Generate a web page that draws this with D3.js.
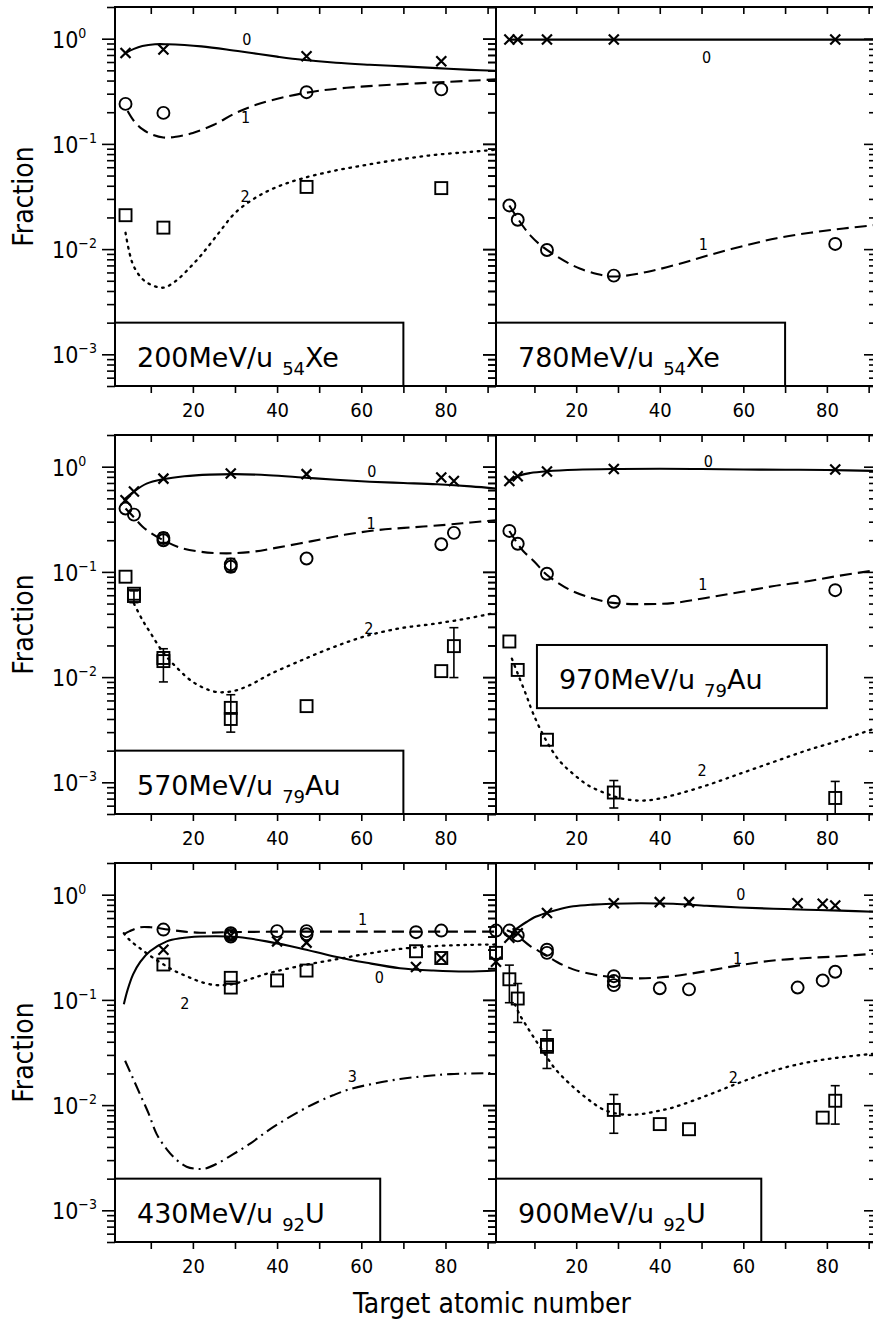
<!DOCTYPE html>
<html>
<head>
<meta charset="utf-8">
<script src="https://cdn.jsdelivr.net/npm/d3@7"></script>
<style>
  html, body { margin: 0; padding: 0; background: #fff; }
  svg { display: block; font-family: "DejaVu Sans", "Liberation Sans", sans-serif; }
</style>
</head>
<body>
<svg id="chart" width="873" height="1325"></svg>
<script>
// ---------- Axis ticks ----------
const zTicks = [10, 20, 30, 40, 50, 60, 70, 80, 90];
const zLabelTicks = [20, 40, 60, 80];
const fracMajor = [1e-3, 1e-2, 1e-1, 1];
const fracExponents = ["−3", "−2", "−1", "0"];

// ---------- 200 MeV/u 54Xe ----------
const xe200Beam = ["200MeV/u", "54", "Xe"];
const xe200Q0 = [[4, 0.73], [13, 0.79], [47, 0.68], [79, 0.61]];
const xe200Q1 = [[4, 0.24], [13, 0.197], [47, 0.31], [79, 0.33]];
const xe200Q2 = [[4, 0.021], [13, 0.016], [47, 0.039], [79, 0.038]];
const xe200Fit0 = [[4, 0.73], [6, 0.8], [8, 0.85], [11, 0.885], [14, 0.885], [18, 0.87], [22, 0.845], [28, 0.79], [34, 0.73], [40, 0.675], [46, 0.63], [54, 0.59], [62, 0.565], [70, 0.545], [78, 0.525], [86, 0.505], [92, 0.495]];
const xe200Fit1 = [[4.5, 0.205], [6, 0.165], [8, 0.138], [10, 0.124], [13, 0.115], [16, 0.117], [20, 0.127], [25, 0.152], [30, 0.195], [35, 0.235], [42, 0.28], [50, 0.32], [60, 0.35], [70, 0.37], [80, 0.388], [92, 0.41]];
const xe200Fit2 = [[4, 0.0143], [5, 0.009], [6, 0.0068], [8, 0.0052], [10, 0.0046], [13, 0.0043], [16, 0.005], [19, 0.0065], [22, 0.0088], [26, 0.014], [30, 0.022], [35, 0.031], [40, 0.039], [46, 0.047], [54, 0.056], [62, 0.064], [70, 0.072], [78, 0.079], [86, 0.084], [92, 0.088]];
const xe200Labels = [[32.8, 0.98, "0"], [32.5, 0.177, "1"], [32.4, 0.0314, "2"]];

// ---------- 780 MeV/u 54Xe ----------
const xe780Beam = ["780MeV/u", "54", "Xe"];
const xe780Q0 = [[4, 0.98], [6, 0.98], [13, 0.98], [29, 0.98], [82, 0.98]];
const xe780Q1 = [[4, 0.026], [6, 0.019], [13, 0.0098], [29, 0.0056], [82, 0.0112]];
const xe780Fit0 = [[4, 0.98], [30, 0.98], [60, 0.98], [92, 0.98]];
const xe780Fit1 = [[4, 0.026], [6, 0.0195], [9, 0.0135], [12, 0.0105], [15, 0.0087], [18, 0.0074], [21, 0.0065], [25, 0.0058], [28, 0.0055], [32, 0.0056], [38, 0.0062], [45, 0.0073], [52, 0.0088], [60, 0.0107], [68, 0.0127], [76, 0.0143], [84, 0.0157], [92, 0.017]];
const xe780Labels = [[51.2, 0.66, "0"], [50.4, 0.011, "1"]];

// ---------- 570 MeV/u 79Au ----------
const au570Beam = ["570MeV/u", "79", "Au"];
const au570Q0 = [[4, 0.48], [6, 0.58], [13, 0.77], [29, 0.86], [47, 0.85], [79, 0.79], [82, 0.73]];
const au570Q1 = [[4, 0.40], [6, 0.35], [13, 0.21], [13, 0.20], [29, 0.118], [29, 0.112], [47, 0.134], [79, 0.183], [82, 0.235]];
const au570Q1Err = [[13, 0.19, 0.235], [29, 0.10, 0.134]];
const au570Q2 = [[4, 0.09], [6, 0.059], [6, 0.062], [13, 0.0142], [13, 0.0152], [29, 0.0051], [29, 0.004], [47, 0.0053], [79, 0.0114], [82, 0.0197]];
const au570Q2Err = [[6, 0.051, 0.066], [13, 0.009, 0.0186], [29, 0.003, 0.0068], [82, 0.0099, 0.0295]];
const au570Fit0 = [[3.5, 0.48], [6, 0.58], [9, 0.69], [13, 0.76], [18, 0.81], [24, 0.84], [30, 0.85], [38, 0.83], [46, 0.79], [54, 0.75], [62, 0.72], [70, 0.70], [78, 0.68], [86, 0.65], [92, 0.62]];
const au570Fit1 = [[4, 0.40], [6, 0.33], [8, 0.27], [10, 0.235], [13, 0.2], [17, 0.17], [22, 0.155], [28, 0.15], [34, 0.155], [40, 0.17], [48, 0.195], [56, 0.225], [64, 0.25], [72, 0.265], [80, 0.28], [86, 0.295], [92, 0.31]];
const au570Fit2 = [[6, 0.05], [8, 0.035], [10, 0.026], [13, 0.017], [16, 0.0125], [20, 0.009], [25, 0.0073], [29, 0.0073], [33, 0.0082], [38, 0.0105], [45, 0.014], [53, 0.019], [61, 0.0245], [69, 0.029], [77, 0.032], [85, 0.036], [92, 0.041]];
const au570Labels = [[62.5, 0.90, "0"], [62.3, 0.29, "1"], [61.8, 0.029, "2"]];

// ---------- 970 MeV/u 79Au ----------
const au970Beam = ["970MeV/u", "79", "Au"];
const au970Q0 = [[4, 0.73], [6, 0.81], [13, 0.90], [29, 0.95], [82, 0.94]];
const au970Q1 = [[4, 0.245], [6, 0.185], [13, 0.096], [29, 0.052], [82, 0.067]];
const au970Q2 = [[4, 0.0218], [6, 0.0117], [13, 0.00254], [29, 0.0008], [82, 0.00071]];
const au970Q2Err = [[29, 0.00057, 0.00104], [82, 0.0005, 0.00102]];
const au970Fit0 = [[4, 0.73], [6, 0.815], [9, 0.87], [13, 0.905], [20, 0.935], [30, 0.95], [40, 0.955], [50, 0.95], [60, 0.94], [70, 0.935], [80, 0.93], [92, 0.91]];
const au970Fit1 = [[4, 0.245], [6, 0.185], [7.3, 0.158], [10, 0.125], [12.8, 0.095], [16, 0.077], [19.3, 0.065], [24, 0.056], [28.3, 0.051], [35, 0.0494], [43, 0.0505], [51, 0.0565], [59, 0.064], [67, 0.073], [75, 0.081], [83, 0.092], [92, 0.104]];
const au970Fit2 = [[4.6, 0.015], [6, 0.0108], [8, 0.0068], [9.7, 0.0045], [12.8, 0.0025], [16, 0.0016], [19.3, 0.0012], [23, 0.00093], [27.3, 0.00078], [31, 0.0007], [35.3, 0.00067], [39, 0.00069], [43, 0.00075], [51, 0.00093], [59, 0.0012], [67, 0.00155], [75, 0.002], [83, 0.0025], [92, 0.0033]];
const au970Labels = [[51.6, 1.12, "0"], [50.3, 0.076, "1"], [50.1, 0.0013, "2"]];

// ---------- 430 MeV/u 92U ----------
const u430Beam = ["430MeV/u", "92", "U"];
const u430Q0 = [[13, 0.30], [29, 0.41], [40, 0.36], [47, 0.35], [73, 0.205], [79, 0.25], [92, 0.23]];
const u430Q1 = [[13, 0.466], [29, 0.40], [29, 0.415], [29, 0.43], [40, 0.45], [47, 0.45], [47, 0.42], [73, 0.44], [79, 0.456], [92, 0.456]];
const u430Q2 = [[13, 0.217], [29, 0.162], [29, 0.131], [40, 0.153], [47, 0.19], [73, 0.29], [79, 0.25], [92, 0.28]];
const u430Fit0 = [[3.6, 0.091], [4.5, 0.125], [5.8, 0.175], [7.5, 0.23], [9.8, 0.29], [13.8, 0.36], [17, 0.385], [21.7, 0.40], [28.8, 0.40], [33, 0.385], [37.5, 0.36], [45.4, 0.31], [53.3, 0.26], [61.3, 0.225], [69.2, 0.20], [77.1, 0.19], [85, 0.186], [92, 0.19]];
const u430Fit1 = [[3.6, 0.42], [5, 0.45], [7.4, 0.49], [10, 0.49], [12.8, 0.475], [17, 0.45], [21.7, 0.435], [28, 0.44], [40, 0.445], [60, 0.445], [80, 0.445], [92, 0.445]];
const u430Fit2 = [[3.6, 0.43], [5, 0.37], [7.4, 0.31], [10, 0.26], [12.8, 0.22], [15.5, 0.19], [18.5, 0.168], [21.5, 0.15], [24.8, 0.139], [27.5, 0.138], [29.6, 0.142], [33, 0.155], [37.5, 0.177], [45.4, 0.21], [53.3, 0.24], [61.3, 0.274], [69.2, 0.305], [77.1, 0.324], [85, 0.333], [92, 0.336]];
const u430Fit3 = [[3.9, 0.0264], [5.5, 0.019], [7.4, 0.0128], [9.5, 0.0083], [11.4, 0.0053], [13.8, 0.0038], [16.2, 0.003], [18.5, 0.0026], [20.9, 0.00248], [23, 0.0025], [25.7, 0.00277], [29.5, 0.0034], [33.6, 0.0043], [37.5, 0.0056], [41.5, 0.0071], [45.5, 0.0088], [49.4, 0.0106], [53.3, 0.0124], [57.3, 0.0142], [63, 0.016], [69.2, 0.0177], [75, 0.0188], [81.1, 0.0197], [92, 0.0202]];
const u430Labels = [[60.3, 0.58, "1"], [64.3, 0.162, "0"], [18.1, 0.093, "2"], [57.9, 0.0186, "3"]];

// ---------- 900 MeV/u 92U ----------
const u900Beam = ["900MeV/u", "92", "U"];
const u900Q0 = [[4, 0.39], [6, 0.43], [13, 0.67], [29, 0.83], [40, 0.85], [47, 0.85], [73, 0.83], [79, 0.82], [82, 0.79]];
const u900Q1 = [[4, 0.456], [6, 0.41], [13, 0.28], [13, 0.30], [29, 0.168], [29, 0.151], [29, 0.138], [40, 0.129], [47, 0.126], [73, 0.131], [79, 0.153], [82, 0.185]];
const u900Q2 = [[4, 0.157], [6, 0.103], [13, 0.0358], [13, 0.0373], [29, 0.009], [40, 0.0066], [47, 0.0059], [79, 0.0076], [82, 0.011]];
const u900Q2Err = [[4, 0.094, 0.214], [6, 0.061, 0.143], [13, 0.0223, 0.0515], [29, 0.0054, 0.0126], [82, 0.0066, 0.0153]];
const u900Fit0 = [[4.9, 0.45], [6.5, 0.5], [8.1, 0.55], [10, 0.61], [12.5, 0.665], [15.5, 0.72], [19.3, 0.775], [24, 0.805], [28.5, 0.82], [35.3, 0.83], [43.2, 0.82], [51.2, 0.785], [59.2, 0.755], [67.2, 0.735], [75.2, 0.72], [83.2, 0.705], [92, 0.685]];
const u900Fit1 = [[3.4, 0.46], [5, 0.43], [6.5, 0.39], [9, 0.325], [12.5, 0.27], [15.5, 0.228], [19.3, 0.195], [24, 0.175], [28.5, 0.165], [35.3, 0.16], [43.2, 0.168], [51.2, 0.188], [59.2, 0.214], [67.2, 0.237], [75.2, 0.25], [83.2, 0.26], [92, 0.276]];
const u900Fit2 = [[5.3, 0.091], [6.5, 0.072], [8.1, 0.0566], [10, 0.043], [12.5, 0.0305], [15, 0.022], [17.7, 0.017], [20.5, 0.0135], [23.3, 0.011], [26, 0.0093], [28.5, 0.0085], [32, 0.0081], [35.3, 0.0082], [39, 0.0087], [43.2, 0.0095], [51.2, 0.0123], [59.2, 0.0164], [67.2, 0.0212], [75.2, 0.0254], [83.2, 0.0284], [92, 0.031]];
const u900Labels = [[59.4, 1.0, "0"], [58.6, 0.25, "1"], [57.6, 0.0183, "2"]];

// ---------- Layout ----------
const colLeft = [115, 496];
const colDomain = [[1.5, 92], [0.8, 92]];
const panelW = 381;
const rowTop = [7, 435, 863];
const panelH = 379;
const fracDomain = [5e-4, 2];

const panels = [
  { col: 0, row: 0, beam: xe200Beam, box: [null, 70, 0.002, null],
    fits: [[xe200Fit0, "solid"], [xe200Fit1, "dash"], [xe200Fit2, "dot"]],
    marks: [[xe200Q0, "x"], [xe200Q1, "o"], [xe200Q2, "s"]], errs: [], labels: xe200Labels },
  { col: 1, row: 0, beam: xe780Beam, box: [null, 70, 0.002, null],
    fits: [[xe780Fit0, "solid"], [xe780Fit1, "dash"]],
    marks: [[xe780Q0, "x"], [xe780Q1, "o"]], errs: [], labels: xe780Labels },
  { col: 0, row: 1, beam: au570Beam, box: [null, 70, 0.002, null],
    fits: [[au570Fit0, "solid"], [au570Fit1, "dash"], [au570Fit2, "dot"]],
    marks: [[au570Q0, "x"], [au570Q1, "o"], [au570Q2, "s"]], errs: [au570Q1Err, au570Q2Err], labels: au570Labels },
  { col: 1, row: 1, beam: au970Beam, box: [10.6, 80, 0.0202, 0.00507],
    fits: [[au970Fit0, "solid"], [au970Fit1, "dash"], [au970Fit2, "dot"]],
    marks: [[au970Q0, "x"], [au970Q1, "o"], [au970Q2, "s"]], errs: [au970Q2Err], labels: au970Labels },
  { col: 0, row: 2, beam: u430Beam, box: [null, 64.5, 0.002, null],
    fits: [[u430Fit0, "solid"], [u430Fit1, "dash"], [u430Fit2, "dot"], [u430Fit3, "dashdot"]],
    marks: [[u430Q0, "x"], [u430Q1, "o"], [u430Q2, "s"]], errs: [], labels: u430Labels },
  { col: 1, row: 2, beam: u900Beam, box: [null, 64.3, 0.002, null],
    fits: [[u900Fit0, "solid"], [u900Fit1, "dash"], [u900Fit2, "dot"]],
    marks: [[u900Q0, "x"], [u900Q1, "o"], [u900Q2, "s"]], errs: [u900Q2Err], labels: u900Labels }
];

const dashStyles = { solid: null, dash: "12,6", dot: "1.6,5.6", dashdot: "12,5,2,5" };
const condensed = "'DejaVu Sans Condensed','DejaVu Sans',sans-serif";

const svg = d3.select("#chart");

function minorTicks() {
  const out = [];
  for (let e = -4; e <= 0; e++) {
    for (let k = 2; k <= 9; k++) {
      const v = k * Math.pow(10, e);
      if (v >= fracDomain[0] && v <= fracDomain[1]) out.push(v);
    }
  }
  return out;
}
const fracMinor = minorTicks();

function styleAxis(sel) {
  sel.select(".domain").remove();
  sel.selectAll(".tick line").attr("stroke", "#000").attr("stroke-width", 1.6);
}

panels.forEach(p => {
  const left = colLeft[p.col], right = left + panelW;
  const top = rowTop[p.row], bottom = top + panelH;
  const x = d3.scaleLinear().domain(colDomain[p.col]).range([left, right]);
  const y = d3.scaleLog().domain(fracDomain).range([bottom, top]);
  const g = svg.append("g");

  // ticks on all four sides
  [left, right].forEach(px => {
    g.append("g").attr("transform", `translate(${px},0)`)
      .call(d3.axisLeft(y).tickValues(fracMajor).tickSize(13).tickFormat(""))
      .call(styleAxis);
    g.append("g").attr("transform", `translate(${px},0)`)
      .call(d3.axisLeft(y).tickValues(fracMinor).tickSize(8).tickFormat(""))
      .call(styleAxis);
  });
  g.append("g").attr("transform", `translate(0,${top})`)
    .call(d3.axisBottom(x).tickValues(zTicks).tickSize(7).tickFormat(""))
    .call(styleAxis);
  const bx = g.append("g").attr("transform", `translate(0,${bottom})`)
    .call(d3.axisBottom(x).tickValues(zTicks).tickSize(7).tickPadding(10)
      .tickFormat(d => zLabelTicks.includes(d) ? d : ""))
    .call(styleAxis);
  bx.selectAll(".tick text").attr("font-size", 20).attr("fill", "#000")
    .attr("font-family", condensed);

  // decade labels on the left column only
  if (p.col === 0) {
    fracMajor.forEach((v, i) => {
      const t = g.append("text").attr("x", 52).attr("y", y(v) + 9)
        .attr("font-family", condensed);
      t.append("tspan").attr("font-size", 23).text("10");
      t.append("tspan").attr("font-size", 14).attr("dy", -10).text(fracExponents[i]);
    });
    g.append("text")
      .attr("transform", `translate(33,${(top + bottom) / 2}) rotate(-90)`)
      .attr("text-anchor", "middle").attr("font-size", 28)
      .attr("font-family", condensed)
      .text("Fraction");
  }

  // fitted curves
  const line = d3.line().x(d => x(d[0])).y(d => y(d[1])).curve(d3.curveCatmullRom.alpha(0.5));
  p.fits.forEach(([data, style]) => {
    g.append("path").attr("d", line(data)).attr("fill", "none")
      .attr("stroke", "#000").attr("stroke-width", style === "dot" ? 2.3 : 2.1)
      .attr("stroke-linecap", style === "dot" ? "round" : "butt")
      .attr("stroke-dasharray", dashStyles[style]);
  });

  // error bars
  p.errs.forEach(list => {
    list.forEach(([z, lo, hi]) => {
      const cx = x(z);
      g.append("line").attr("x1", cx).attr("x2", cx).attr("y1", y(lo)).attr("y2", y(hi))
        .attr("stroke", "#000").attr("stroke-width", 1.6);
      [lo, hi].forEach(v => {
        g.append("line").attr("x1", cx - 4.5).attr("x2", cx + 4.5).attr("y1", y(v)).attr("y2", y(v))
          .attr("stroke", "#000").attr("stroke-width", 1.6);
      });
    });
  });

  // measured fractions
  p.marks.forEach(([data, shape]) => {
    data.forEach(([z, v]) => {
      const cx = x(z), cy = y(v);
      if (shape === "x") {
        g.append("path").attr("d", `M${cx - 5},${cy - 5}L${cx + 5},${cy + 5}M${cx - 5},${cy + 5}L${cx + 5},${cy - 5}`)
          .attr("stroke", "#000").attr("stroke-width", 2.2).attr("fill", "none");
      } else if (shape === "o") {
        g.append("circle").attr("cx", cx).attr("cy", cy).attr("r", 6)
          .attr("stroke", "#000").attr("stroke-width", 1.9).attr("fill", "none");
      } else {
        g.append("rect").attr("x", cx - 6).attr("y", cy - 6).attr("width", 12).attr("height", 12)
          .attr("stroke", "#000").attr("stroke-width", 1.9).attr("fill", "none");
      }
    });
  });

  // charge-state labels on the curves
  p.labels.forEach(([z, v, txt]) => {
    g.append("text").attr("x", x(z)).attr("y", y(v)).attr("text-anchor", "middle")
      .attr("dominant-baseline", "central").attr("font-size", 16)
      .attr("font-family", condensed)
      .text(txt);
  });

  // beam box
  const bx0 = p.box[0] === null ? left : x(p.box[0]);
  const bx1 = x(p.box[1]);
  const by0 = y(p.box[2]);
  const by1 = p.box[3] === null ? bottom : y(p.box[3]);
  g.append("rect").attr("x", bx0).attr("y", by0).attr("width", bx1 - bx0).attr("height", by1 - by0)
    .attr("fill", "#fff").attr("stroke", "#000").attr("stroke-width", 2);
  const bt = g.append("text").attr("x", bx0 + 22).attr("y", by0 + 44)
    .attr("font-size", 27).attr("font-family", "'DejaVu Sans','Liberation Sans',sans-serif");
  bt.append("tspan").text(p.beam[0]);
  bt.append("tspan").attr("dx", 9).attr("dy", 8).attr("font-size", 18).text(p.beam[1]);
  bt.append("tspan").attr("dy", -8).text(p.beam[2]);

  // panel frame
  g.append("rect").attr("x", left).attr("y", top).attr("width", panelW).attr("height", panelH)
    .attr("fill", "none").attr("stroke", "#000").attr("stroke-width", 2);
});

svg.append("text").attr("x", 492).attr("y", 1313).attr("text-anchor", "middle")
  .attr("font-size", 28).attr("font-family", condensed)
  .text("Target atomic number");
</script>
</body>
</html>
